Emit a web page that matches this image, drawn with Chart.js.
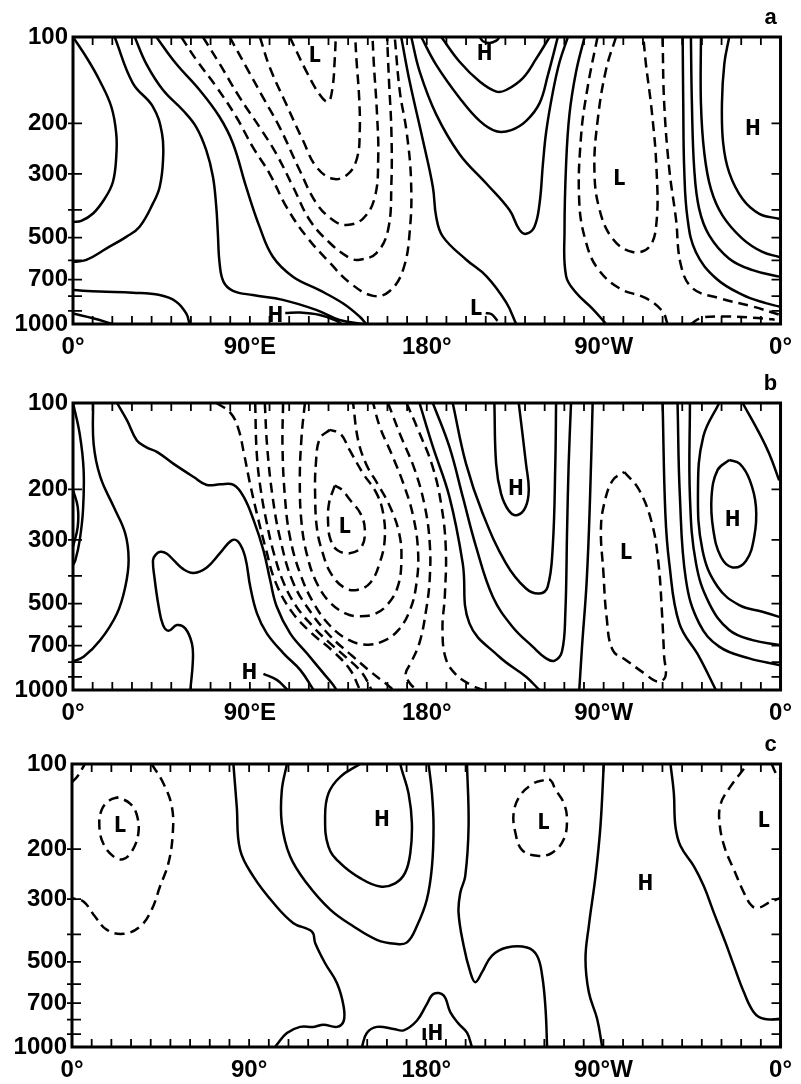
<!DOCTYPE html>
<html>
<head>
<meta charset="utf-8">
<script src="https://cdn.jsdelivr.net/npm/chart.js@4.4.1/dist/chart.umd.min.js"></script>
<style>
  body { margin: 0; background: #fff; }
  canvas { position: absolute; left: 0; }
</style>
</head>
<body>
<canvas id="panelA" width="801" height="362" style="top:0px"></canvas>
<canvas id="panelB" width="801" height="363" style="top:362px"></canvas>
<canvas id="panelC" width="801" height="359" style="top:725px"></canvas>
<script>
// axes
const xTicks = [0, 90, 180, 270, 360];
const xLabelsAB = ['0°', '90°E', '180°', '90°W', '0°'];
const xLabelsC = ['0°', '90°', '180°', '90°W', '0°'];
const yTicks = [100, 200, 300, 500, 700, 1000];
const yMinor = [200, 300, 400, 500, 600, 700, 800, 900];
const xMinor = [10,20,30,40,50,60,70,80,90,100,110,120,130,140,150,160,170,180,
  190,200,210,220,230,240,250,260,270,280,290,300,310,320,330,340,350];

// contour lines: [longitude, pressure hPa]
// --- panel a ---
const a1 = [[0,100],[7.6,120],[13.6,142],[19.5,175],[22,217],[22,262],[20.3,320],[16.1,366],[10.2,412],[4.2,437],[0,441]];
const a2 = [[21.2,100],[30.5,145],[40.7,175],[45.3,217],[45.8,269],[44.1,333],[40.7,380],[33.9,458],[27.1,497],[16.9,546],[6.8,598],[0,607]];
const a3 = [[31.4,100],[37.3,124],[45.8,153],[55.9,180],[62.7,206],[67.8,248],[71.2,307],[72.9,391],[73.7,483],[74.6,615],[76.6,713],[81.4,766],[91.5,793],[106.8,824],[123.7,893],[135.6,968],[147.5,1000]];
const a4 = [[42.4,100],[52.5,124],[64.4,153],[74.6,190],[81.4,235],[88.1,333],[94.9,458],[101.7,583],[111.9,684],[125.4,762],[137.3,847],[145.8,942],[149.2,1000]];
const a5 = [[0,762],[13.6,771],[30.5,778],[44.1,793],[52.5,836],[57.6,919],[59.3,1000]];
const a6 = [[0,919],[10.2,955],[20.3,1000]];
const aHline = [[108,916],[115.4,912],[125.6,930],[134.1,975],[136.6,1000]];
const aE1 = [[167,100],[171.3,143],[178.1,230],[183.1,333],[184.8,423],[188.2,496],[200.1,597],[210.3,681],[220.4,841],[225.5,1000]];
const aE2 = [[172.1,100],[176.4,132],[184.8,186],[196.7,256],[210.3,324],[222.1,401],[227.2,470],[230.6,485],[234.8,458],[237.4,380],[239.1,277],[240.8,213],[244.2,155],[247.6,122],[251.8,100]];
const aE3 = [[177.2,100],[184.8,125],[196.7,163],[206.9,196],[215.4,213],[223,211],[230.6,196],[237.4,170],[241.6,136],[246.7,100]];
const aE4 = [[187.4,100],[196.7,122],[206.9,143],[215.4,155],[220.4,153],[228.9,139],[235.7,119],[242.5,100]];
const aHarc = [[206.9,100],[208.6,103.5],[212,105],[215.4,103],[217,100]];
const aLhook = [[210,915],[213,925],[216,975]];
const aF1 = [[260.3,100],[256,132],[252.6,186],[250.9,277],[250.1,470],[250.9,681],[256,778],[264.5,887],[271.3,1000]];
const aR4 = [[310.2,100],[310.5,170],[311,289],[312.7,430],[316.9,561],[327.1,693],[340.7,792],[352.5,846],[359.3,869]];
const aR3 = [[314.4,100],[314.9,170],[316.1,289],[318.6,397],[323.7,491],[333.9,592],[345.8,649],[359.3,684]];
const aR2 = [[319.5,100],[319.5,170],[321.2,253],[324.6,339],[330.5,419],[340.7,505],[350.8,561],[359.3,584]];
const aR1 = [[333.9,100],[331.4,124],[330.2,170],[330.8,234],[333.9,297],[340.7,367],[349.2,413],[359.3,430]];
const aDU1 = [[95.1,100],[100.2,128],[108.6,172],[117.1,230],[123.9,284],[132.4,312],[140,300],[144.6,263],[145.9,213],[145.6,163],[144.2,119],[143.6,100]];
const aDL = [[110.3,100],[118.8,132],[125.6,159],[129.8,168],[132,151],[133.2,119],[133.7,100]];
const aDU2 = [[79.7,100],[88.1,127],[96.6,162],[105.1,206],[115.4,292],[123.9,380],[132.4,435],[139.2,452],[147.6,429],[153.6,361],[155.3,263],[154.7,186],[153.1,125],[152.4,100]];
const aDU3 = [[66.1,100],[74.6,124],[84.7,162],[94.9,206],[103.4,255],[112,333],[120.5,435],[130.7,522],[140.8,589],[145.9,597],[154.4,566],[160.3,470],[162,324],[162,213],[160.8,143],[159.8,100]];
const aDU4 = [[55.1,100],[62.7,120],[72.9,149],[83.1,190],[91.5,242],[100,299],[108.6,391],[118.8,496],[130.7,612],[140.8,718],[152.7,798],[161.2,767],[168,646],[171.4,470],[172,316],[169.7,213],[166.3,155],[163.7,100]];
const aG0 = [[266.9,100],[261.9,149],[258.5,222],[257.6,377],[261,518],[266.9,640],[278,751],[291.5,813],[300,904],[302.5,1000]];
const aG1 = [[276.3,100],[271.2,130],[267,194],[265.3,289],[267.8,397],[274.6,505],[284.7,561],[293.2,539],[296.9,442],[296.9,289],[294.6,184],[291.5,124],[290.2,100]];
const aG2 = [[300,100],[300.8,170],[303.4,289],[306.8,430],[309.3,623],[315.3,751],[328.8,813],[345.8,869],[359.3,928]];
const aG3 = [[314.4,1000],[319.5,953],[329.7,941],[343.2,948],[353.4,959],[357,966]];
const aSolid = [a1, a2, a3, a4, a5, a6, aHline, aE1, aE2, aE3, aE4, aHarc, aLhook, aF1, aR4, aR3, aR2, aR1];
const aDashed = [aDU1, aDL, aDU2, aDU3, aDU4, aG0, aG1, aG2, aG3];
const aMarks = [['L',123,117],['H',209.5,115],['L',278,313],['H',346,210],['H',103,940],['L',205,887]];

// --- panel b ---
const b1 = [[0,100],[3.4,128],[5.4,171],[5.1,236],[3.4,301],[1.2,353],[0,367]];
const b1b = [[0,201],[2.4,230],[2.4,270],[0,317]];
const b2 = [[10.2,100],[10.5,139],[13.9,181],[20.7,230],[26.6,285],[28.3,353],[26.6,437],[22.4,541],[13.9,670],[5.4,766],[0,796]];
const b3 = [[22.4,100],[27.5,115],[32.5,135],[37.6,143],[42.7,148],[51.2,163],[61.4,181],[68.1,193],[74.9,192],[81.7,193],[86.8,212],[91.9,256],[96.9,326],[100.3,414],[103.7,513],[110.5,635],[119,745],[127.5,875],[132.5,962],[134,1000]];
const b4 = [[59.7,1000],[61,787],[60.5,688],[57.1,610],[52.9,594],[48.6,622],[45.8,594],[43.6,513],[41.4,403],[40.7,353],[41.9,339],[44.4,330],[47.8,335],[51.2,353],[56.3,380],[61.4,391],[68.1,374],[74.9,333],[80.8,301],[84.2,305],[87.6,344],[90.2,437],[93.6,541],[98.6,635],[107.1,745],[115.6,851],[122.4,1000]];
const bHline = [[96.9,879],[103.7,922],[109.2,1000]];
const bS1 = [[176.3,100],[183.1,142],[191.5,212],[198.3,362],[201.7,586],[216.9,766],[230.5,899],[237.3,1000]];
const bS2 = [[183.1,100],[191.5,142],[198.3,212],[205.1,317],[213.6,473],[223.7,603],[233.9,706],[240.7,776],[244.9,791],[248.8,734],[250.5,541],[251.4,277],[252.2,163],[253.4,100]];
const bS3 = [[193.2,100],[200,163],[208.5,243],[220.3,362],[230.5,443],[237.3,461],[241.5,437],[244.1,317],[245.4,163],[245.8,100]];
const bS4 = [[214.4,100],[215.3,163],[217.8,207],[221.7,237],[225.8,246],[230.2,231],[231.9,201],[230.5,163],[226.8,100]];
const bS5 = [[264.4,100],[263.1,212],[261.4,414],[259,706],[257.6,1000]];
const bT1 = [[300,100],[301.4,243],[303.4,362],[308.5,586],[318.6,766],[327.1,1000]];
const bT2 = [[307.6,100],[308.8,212],[311.9,414],[318.6,586],[328.8,706],[344.1,776],[359.3,818]];
const bT3 = [[313.9,100],[313.9,212],[317,362],[323.7,499],[333.9,618],[345.8,670],[359.3,697]];
const bH1 = [[328.8,100],[320.7,131],[318,201],[320.3,326],[328,437],[339,506],[350.8,534],[359.3,556]];
const bH2 = [[333.9,158],[328,171],[324.9,212],[325.8,277],[329.7,344],[335.6,374],[342.4,355],[346.6,293],[347.5,230],[344.4,186],[339.3,163],[333.9,158]];
const bTR = [[340.7,100],[348.3,124],[354.2,150],[359.3,186]];
const bD1 = [[73,100],[80,108],[84,122],[87,150],[90,190],[94,250],[98,320],[103,420],[111,530],[121,630],[132,730],[141,850],[146,1000]];
const bD2 = [[92.7,100],[93.5,150],[95.5,200],[98.5,260],[102,330],[107,420],[113.5,510],[122,600],[130,680],[139,770],[147,870],[152,1000]];
const bD3 = [[97.6,100],[98.8,142],[101.5,211],[105.5,299],[112,422],[121,536],[131,650],[142,760],[152,870],[159,948],[163,1000]];
const bL4 = [[106.9,100],[106.6,142],[107.8,211],[110.3,291],[115.4,390],[122.2,495],[130.7,596],[140,668],[149.3,695],[157.8,676],[165.4,620],[171.4,528],[174.7,428],[175.6,332],[173.1,248],[168,190],[162,150],[156.1,121],[152.7,100]];
const bL3 = [[118,100],[116.3,131],[115.4,185],[116.3,262],[119.2,341],[123.9,422],[130.7,495],[139.2,543],[145.9,553],[153.6,543],[160.3,501],[165.4,433],[167.1,350],[165.9,283],[161.2,229],[155.3,193],[149.3,164],[145.1,135],[142.5,100]];
const bL2 = [[130.7,124],[125.6,133],[123.6,162],[123.2,211],[124.2,276],[127,332],[131,390],[137.8,439],[144.6,448],[151.4,422],[156.1,360],[158.6,299],[157.8,242],[154.4,206],[147.6,176],[140.8,146],[136.1,128],[130.7,124]];
const bL1 = [[133.2,194],[130.3,223],[129.8,262],[131,299],[134.4,325],[140.8,334],[146.8,317],[148.5,276],[146.3,243],[140.8,217],[136.6,200],[133.2,194]];
const bR1 = [[160.3,100],[166.3,128],[173.9,171],[179,229],[181.5,307],[181.5,411],[179.5,536],[176.4,681],[172.2,798],[169.3,875],[171,940],[174.7,1000]];
const bR2 = [[169.7,100],[175.6,124],[182.9,166],[187.5,229],[189.7,323],[189.2,469],[188,612],[189.7,778],[195.1,887],[202.7,962],[208.6,1000]];
const bLoop = [[280.5,174],[288.1,201],[294.6,263],[297.9,362],[299.7,541],[300.8,766],[301.4,899],[297.5,935],[290.7,875],[281.4,787],[274.6,726],[271.5,556],[269.8,382],[268.6,277],[270.3,224],[274.6,186],[280.5,174]];
const bSolid = [b1, b1b, b2, b3, b4, bHline, bS1, bS2, bS3, bS4, bS5, bT1, bT2, bT3, bH1, bH2, bTR];
const bDashed = [bD1, bD2, bD3, bL4, bL3, bL2, bL1, bR1, bR2, bLoop];
const bMarks = [['L',138.3,272],['H',225.4,201],['L',281.4,334],['H',335.6,256],['H',89.8,879]];

// --- panel c ---
const cC1 = [[82,100],[83.7,141],[85.4,201],[92.2,250],[102.4,310],[112.5,365],[121.9,391],[123.6,430],[128.6,506],[134.6,594],[138,718],[138,811],[134.6,849],[127.8,834],[122.7,849],[115.9,849],[109.2,893],[104.1,981],[103.2,1000]];
const cC2 = [[109.2,100],[106.6,124],[106.6,162],[110.8,212],[119.3,264],[131.2,327],[143.1,375],[154.9,418],[164.2,432],[170.2,427],[175.3,373],[180.3,301],[182.9,230],[183.7,166],[182.9,127],[181.2,100]];
const cC3 = [[146.4,100],[136.3,111],[130.3,127],[128.6,153],[130.3,196],[136.3,224],[146.4,253],[156.6,271],[164.2,264],[169.3,242],[171.9,206],[172.7,162],[171,127],[167.6,105],[166.8,100]];
const cHbot = [[147.3,1000],[149.8,892],[154.9,849],[163.4,863],[168.5,873],[175.3,806],[180.3,705],[183.7,649],[188.8,657],[192.2,753],[196.4,827],[200.7,890],[203.2,1000]];
const cC4 = [[200.7,100],[201.5,166],[199.8,249],[197.3,285],[196.4,335],[199,439],[202.4,545],[204.9,590],[208.3,545],[213.3,476],[221,445],[231.2,445],[236.3,476],[238.9,560],[240.6,733],[241.4,1000]];
const cC5 = [[270.2,100],[268.5,166],[266,249],[262.6,373],[260.9,489],[262.6,641],[266.8,795],[269.4,1000]];
const cC6 = [[304.1,100],[305.8,127],[306.6,166],[309.2,195],[316,230],[321,270],[326.1,335],[332,427],[336.3,516],[341.4,641],[346.4,753],[351.5,795],[360,795]];
const cD0 = [[0,116],[3,110],[6.5,100]];
const cDL1 = [[23.6,131],[19.3,134],[15.1,145],[13.9,166],[15.9,191],[21,212],[25.8,217],[30.3,204],[33.7,176],[32.9,151],[29.5,138],[23.6,131]];
const cDbig = [[40.5,100],[46.4,117],[50.7,141],[51.2,176],[49,224],[44.7,271],[40.5,327],[34.6,375],[26.1,398],[17.6,385],[11.7,346],[5.8,306],[0,298]];
const cDL2 = [[239.7,114],[234.6,117],[227.8,129],[224.4,149],[225.3,175],[228.6,201],[236.3,211],[243.9,206],[249.8,185],[251.5,157],[249.8,137],[245.6,123],[243.1,114],[239.7,114]];
const cDR = [[341.4,104],[334.6,120],[329.5,139],[329.2,166],[332,201],[336.3,236],[341.4,285],[345.6,318],[349,322],[354.1,309],[360,297]];
const cDcorner = [[355.5,100],[358,109],[360,113]];
const cSolid = [cC1, cC2, cC3, cHbot, cC4, cC5, cC6];
const cDashed = [cD0, cDL1, cDbig, cDL2, cDR, cDcorner];
const cMarks = [['L',24.4,166],['H',157.5,158],['L',239.6,162],['L',351.5,160],['H',291.4,267],['ıH',183,905]];

const tickFont = { family: '"Liberation Sans", Arial, sans-serif', size: 24, weight: 'bold' };

function toSets(solid, dashed) {
  const mk = (d, dash) => ({
    data: d.map(([x, y]) => ({ x, y })),
    showLine: true, pointRadius: 0, borderColor: '#000', borderWidth: 2.5,
    borderDash: dash, tension: 0.4, fill: false
  });
  return solid.map(d => mk(d, [])).concat(dashed.map(d => mk(d, [10, 6])));
}

// frame, inward ticks, H/L letters, panel letter
const frame = {
  id: 'frame',
  afterDatasetsDraw(chart, args, opts) {
    const { ctx, chartArea: a, scales: { x, y } } = chart;
    ctx.save();
    ctx.strokeStyle = '#000';
    ctx.lineWidth = 1.8;
    ctx.beginPath();
    xMinor.forEach(v => {
      const px = x.getPixelForValue(v);
      ctx.moveTo(px, a.bottom); ctx.lineTo(px, a.bottom - 8);
      ctx.moveTo(px, a.top); ctx.lineTo(px, a.top + 8);
    });
    yMinor.forEach(v => {
      const py = y.getPixelForValue(v);
      ctx.moveTo(a.left - 5, py); ctx.lineTo(a.left + 9, py);
      ctx.moveTo(a.right, py); ctx.lineTo(a.right - 9, py);
    });
    ctx.stroke();
    ctx.lineWidth = 3;
    ctx.strokeRect(a.left, a.top, a.right - a.left, a.bottom - a.top);
    ctx.fillStyle = '#000';
    ctx.textAlign = 'center';
    ctx.textBaseline = 'middle';
    ctx.font = 'bold 21px "DejaVu Sans Condensed", "DejaVu Sans", sans-serif';
    opts.marks.forEach(([t, lon, p]) => ctx.fillText(t, x.getPixelForValue(lon), y.getPixelForValue(p)));
    ctx.font = 'bold 22px "Liberation Sans", Arial, sans-serif';
    ctx.fillText(opts.letter, a.right - 10, a.top - 19);
    ctx.restore();
  }
};

function makeChart(id, datasets, xLabels, marks, letter, padTop, leftW, bottomH) {
  return new Chart(document.getElementById(id), {
    type: 'scatter',
    data: { datasets },
    options: {
      responsive: false, animation: false, devicePixelRatio: 1,
      layout: { padding: { top: padTop, right: 20, left: 0, bottom: 0 } },
      plugins: { legend: { display: false }, tooltip: { enabled: false }, frame: { marks, letter } },
      scales: {
        x: {
          type: 'linear', min: 0, max: 360,
          grid: { display: false, drawTicks: false }, border: { display: false },
          afterBuildTicks: s => { s.ticks = xTicks.map(v => ({ value: v })); },
          afterFit: s => { s.height = bottomH; },
          ticks: { autoSkip: false, maxRotation: 0, padding: 9, color: '#000', font: tickFont,
                   callback: (v, i) => xLabels[i] }
        },
        y: {
          type: 'logarithmic', reverse: true, min: 100, max: 1000,
          grid: { display: false, drawTicks: false }, border: { display: false },
          afterBuildTicks: s => { s.ticks = yTicks.map(v => ({ value: v })); },
          afterFit: s => { s.width = leftW; },
          ticks: { autoSkip: false, padding: 5, color: '#000', font: tickFont,
                   callback: v => String(v) }
        }
      }
    },
    plugins: [frame]
  });
}

makeChart('panelA', toSets(aSolid, aDashed), xLabelsAB, aMarks, 'a', 37, 73, 38);
makeChart('panelB', toSets(bSolid, bDashed), xLabelsAB, bMarks, 'b', 41, 73, 35);
makeChart('panelC', toSets(cSolid, cDashed), xLabelsC, cMarks, 'c', 39, 72, 37);
</script>
</body>
</html>
